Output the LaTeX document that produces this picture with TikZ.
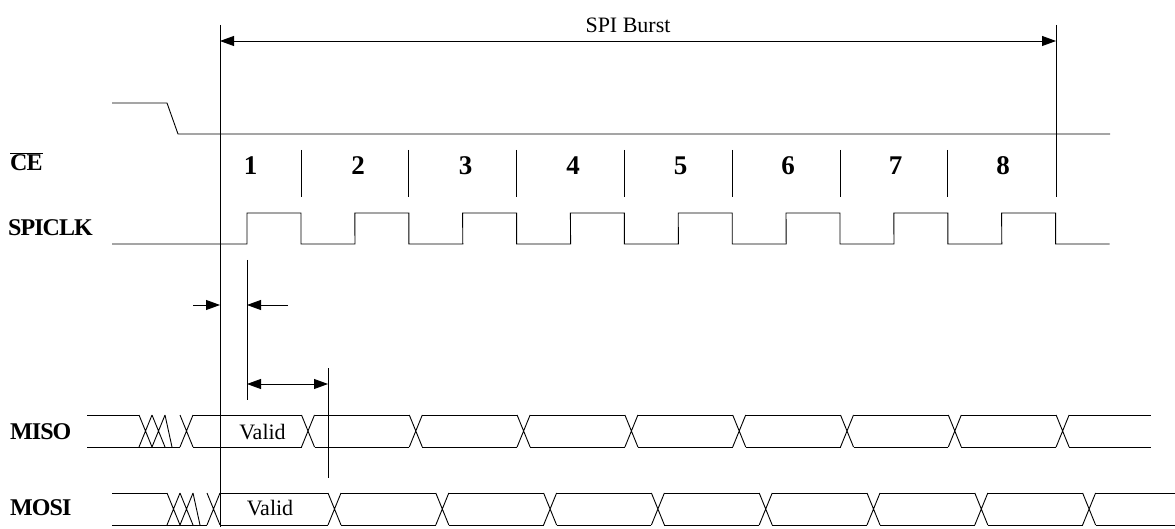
\documentclass[tikz,border=0pt]{standalone}
\usepackage{fontspec}
\setmainfont{Liberation Serif}
\newfontfamily\lblfont[LetterSpace=-4]{Liberation Serif}
\usetikzlibrary{arrows.meta}
\begin{document}
\begin{tikzpicture}[x=1pt,y=-1pt,
  wave/.style={line width=0.9pt,line join=miter},
  thin/.style={line width=0.8pt},
  dim/.style={line width=0.8pt,-{Triangle[length=14pt,width=10pt]}},
  ddim/.style={line width=0.8pt,{Triangle[length=14pt,width=10pt]}-{Triangle[length=14pt,width=10pt]}},
  siglabel/.style={anchor=west,inner sep=0pt,font=\lblfont\fontsize{24}{28}\selectfont\bfseries},
  numlabel/.style={inner sep=0pt,font=\fontsize{27}{31}\selectfont\bfseries},
  txt/.style={inner sep=0pt,font=\fontsize{22}{26}\selectfont}]
\useasboundingbox (0,0) rectangle (1175,529);
\fill[white] (0,0) rectangle (1175,529);
% labels
\node[siglabel] (lce) at (10,162) {$\overline{\hbox{\lblfont\fontsize{24}{28}\selectfont\bfseries CE}}$};
\node[siglabel] (lclk) at (8,228) {SPICLK};
\node[siglabel] (lmiso) at (10,432) {MISO};
\node[siglabel] (lmosi) at (10,508) {MOSI};
% CE
\draw[wave] (112,103) -- (167,103) -- (178,134) -- (1110,134);
% main verticals
\coordinate (vtop) at (220,25);
\coordinate (vbot) at (220,527);
\draw[thin] (vtop) -- (vbot);
\coordinate (rtop) at (1056,25);
\coordinate (rbot) at (1056,197);
\draw[thin] (rtop) -- (rbot);
% SPI burst
\coordinate (ba) at (220,41);
\coordinate (bb) at (1056,41);
\draw[ddim] (ba) -- (bb);
\node[txt] (burst) at (628,25) {SPI Burst};
% dividers and numbers
\foreach \k in {0,...,6} {
  \draw[thin] ({301+107.8*\k},150) -- ({301+107.8*\k},197);
}
\foreach \n [count=\k from 0] in {1,...,8} {
  \node[numlabel] (n\n) at ({250.5+107.5*\k},166) {\n};
}
% clock
\draw[wave] (112,244) -- (247,244)
  \foreach \k in {0,...,7} { -- ({247+107.8*\k},213) -- ({301+107.8*\k},213) -- ({301+107.8*\k},244) -- ({355+107.8*\k},244) }
  ;
% timing marks
\coordinate (t1a) at (247,260);
\coordinate (t1b) at (247,400);
\draw[thin] (t1a) -- (t1b);
\coordinate (t2a) at (328,368);
\coordinate (t2b) at (328,478);
\draw[thin] (t2a) -- (t2b);
\coordinate (a1s) at (193,305);
\coordinate (a1e) at (220,305);
\draw[dim] (a1s) -- (a1e);
\coordinate (a2s) at (288,305);
\coordinate (a2e) at (247,305);
\draw[dim] (a2s) -- (a2e);
\coordinate (a3s) at (247,384);
\coordinate (a3e) at (328,384);
\draw[ddim] (a3s) -- (a3e);
% MISO bus (top 415, bottom 447)
\def\mt{415}\def\mb{447}
\draw[wave] (87,\mt) -- (139,\mt);
\draw[wave] (87,\mb) -- (180,\mb);
\draw[wave] (139,\mt) -- (152,\mb) (139,\mb) -- (152,\mt)
            (152,\mt) -- (165,\mb) (152,\mb) -- (165,\mt)
            (165,\mt) -- (172,\mb)
            (180,\mt) -- (193,\mb) (180,\mb) -- (193,\mt);
\foreach \k in {0,...,7} {
  \pgfmathsetmacro{\c}{308+107.8*\k}
  \draw[wave] ({\c-6.5},\mt) -- ({\c+6.5},\mb) ({\c-6.5},\mb) -- ({\c+6.5},\mt);
  \pgfmathsetmacro{\p}{\c-107.8+6.5}
  \ifnum\k=0 \def\p{193}\fi
  \draw[wave] (\p,\mt) -- ({\c-6.5},\mt) (\p,\mb) -- ({\c-6.5},\mb);
}
\draw[wave] ({308+107.8*7+6.5},\mt) -- (1151,\mt) ({308+107.8*7+6.5},\mb) -- (1151,\mb);
\node[txt] (v1) at (262.5,432) {Valid};
% MOSI bus (top 493, bottom 525)
\def\st{493}\def\sb{525}
\draw[wave] (112,\st) -- (167,\st);
\draw[wave] (112,\sb) -- (207,\sb);
\draw[wave] (167,\st) -- (180,\sb) (167,\sb) -- (180,\st)
            (180,\st) -- (193,\sb) (180,\sb) -- (193,\st)
            (193,\st) -- (200,\sb)
            (207,\st) -- (220,\sb) (207,\sb) -- (220,\st);
\foreach \k in {0,...,7} {
  \pgfmathsetmacro{\c}{334.5+107.8*\k}
  \draw[wave] ({\c-6.5},\st) -- ({\c+6.5},\sb) ({\c-6.5},\sb) -- ({\c+6.5},\st);
  \pgfmathsetmacro{\p}{\c-107.8+6.5}
  \ifnum\k=0 \def\p{220}\fi
  \draw[wave] (\p,\st) -- ({\c-6.5},\st) (\p,\sb) -- ({\c-6.5},\sb);
}
\draw[wave] ({334.5+107.8*7+6.5},\st) -- (1175,\st) ({334.5+107.8*7+6.5},\sb) -- (1175,\sb);
\node[txt] (v2) at (270,508) {Valid};
\end{tikzpicture}
\end{document}
